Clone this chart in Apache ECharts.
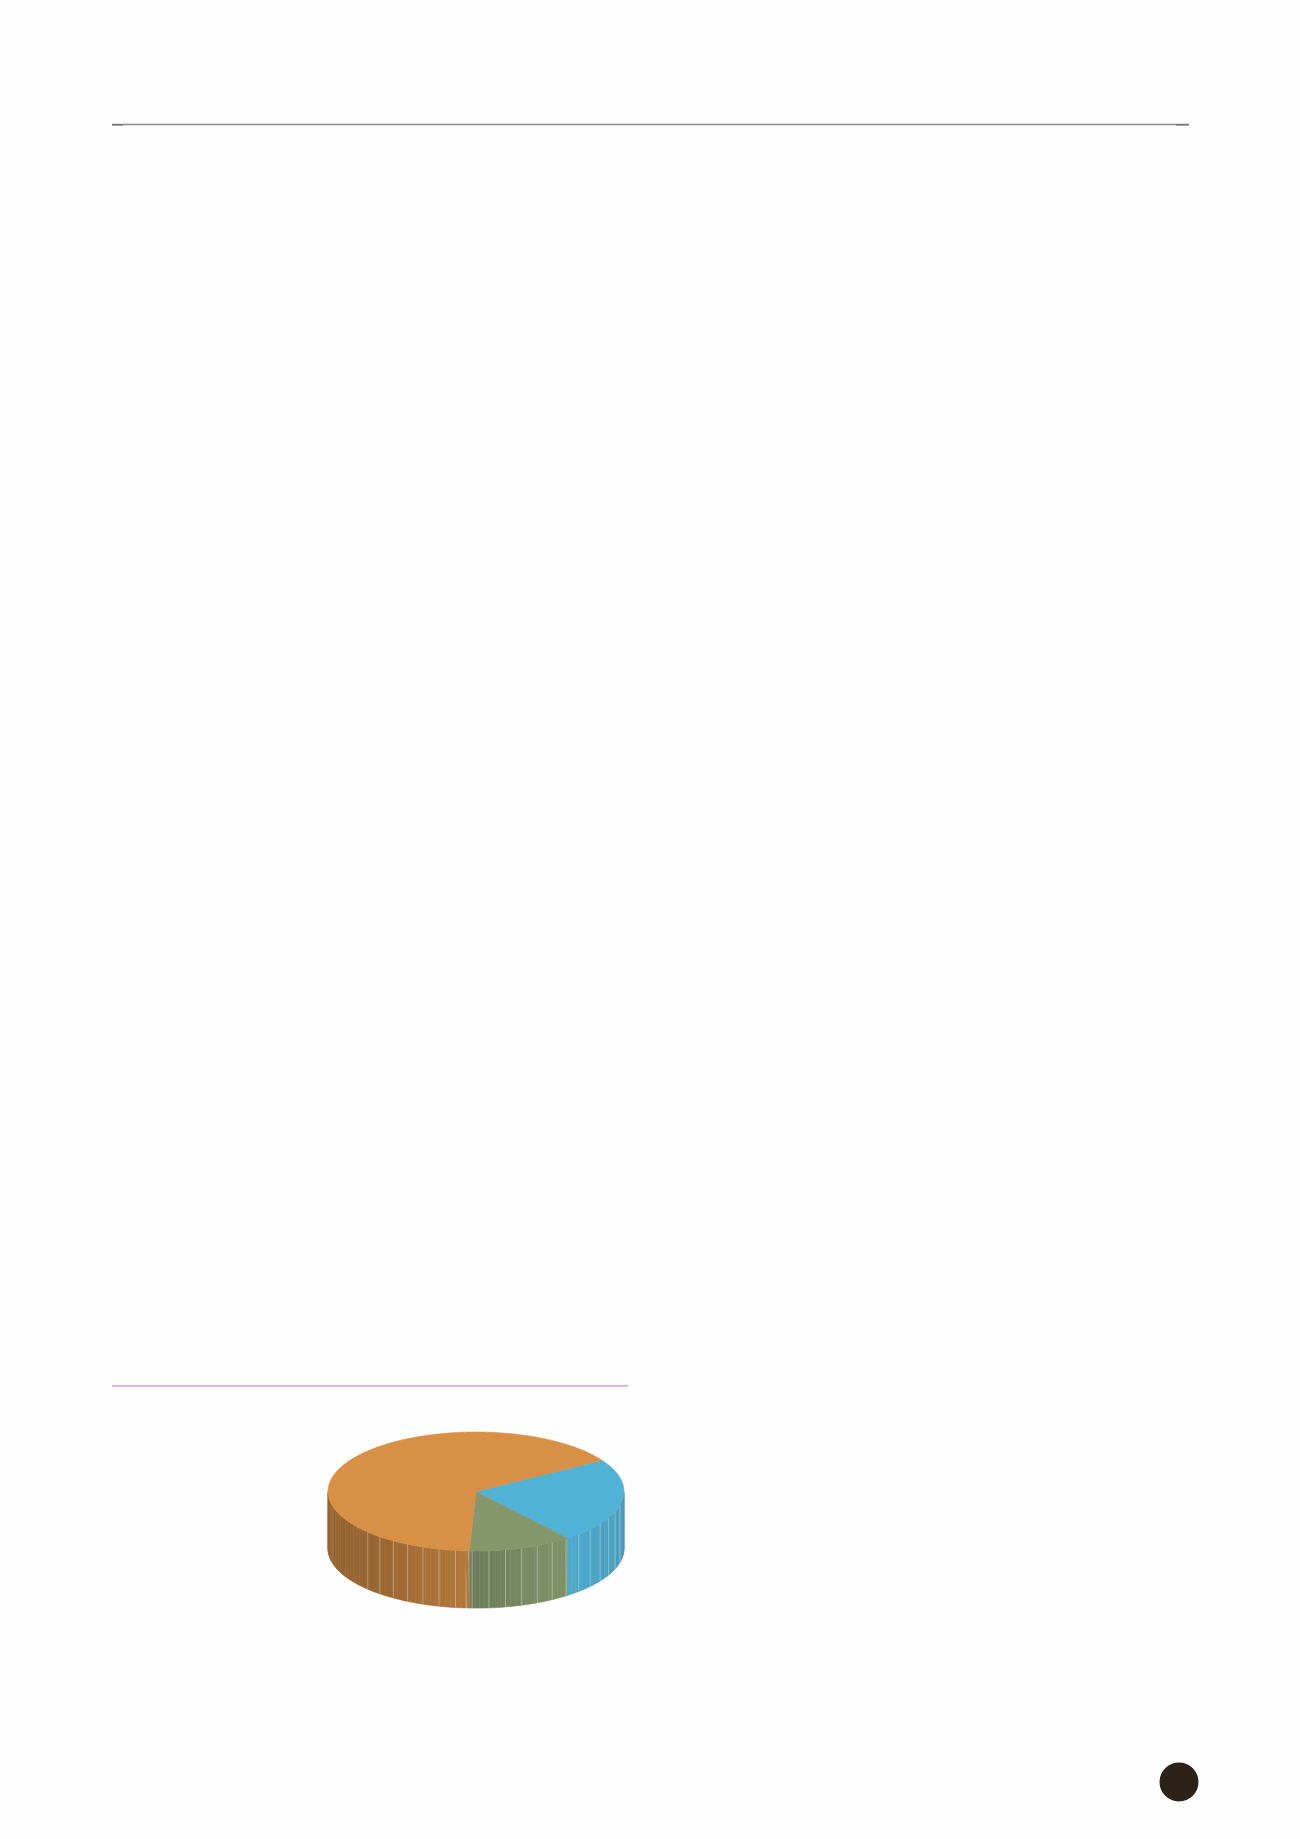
<!DOCTYPE html>
<html>
<head>
<meta charset="utf-8">
<script src="https://cdn.jsdelivr.net/npm/echarts@6/dist/echarts.min.js"></script>
<style>
  html, body { margin: 0; padding: 0; background: #fefefe; }
  #container { width: 1300px; height: 1839px; }
</style>
</head>
<body>
<div id="container"></div>
<script>
// slice data, clockwise from startAngle
var sliceNames = ['Segment A', 'Segment B', 'Segment C'];
var sliceValues = [23.2, 11.3, 65.5];
var startAngle = 31.6;

// look
var topColors = ['#50b2d5', '#84976d', '#d79046'];
var depth = 0.96;       // height of the cake, in y-axis units
var stripeFrom = 223;   // side stripes only on this part of the rim
var stripeTo = 350;
var stripeStep = 6.5;

function sliceAngles() {
  var total = 0;
  for (var i = 0; i < sliceValues.length; i++) total += sliceValues[i];
  var out = [];
  var a = startAngle;
  for (var j = 0; j < sliceValues.length; j++) {
    var sweep = sliceValues[j] / total * 360;
    out.push([a - sweep, a]);
    a -= sweep;
  }
  return out;
}

function rad(d) { return d * Math.PI / 180; }

function norm(d) {
  var n = d % 360;
  if (n < 0) n += 360;
  return n;
}

// side light: dark on the left, brightest a bit right of the front
function sideFactor(deg) {
  var t = norm(deg);
  if (t <= 225) return 0.70;
  if (t <= 270) return 0.70 + 0.14 * (t - 225) / 45;
  if (t <= 305) return 0.84 + 0.12 * (t - 270) / 35;
  return 0.96 - 0.11 * (t - 305) / 55;
}

function shade(hex, f) {
  var r = parseInt(hex.substr(1, 2), 16);
  var g = parseInt(hex.substr(3, 2), 16);
  var b = parseInt(hex.substr(5, 2), 16);
  return 'rgb(' + Math.round(r * f) + ',' + Math.round(g * f) + ',' + Math.round(b * f) + ')';
}

// visible (front) parts of a slice rim
function frontParts(lo, hi) {
  var parts = [];
  for (var k = -2; k <= 1; k++) {
    var s = 180 + 360 * k, e = 360 + 360 * k;
    var a = Math.max(lo, s), b = Math.min(hi, e);
    if (b > a) parts.push([a, b]);
  }
  return parts;
}

function renderSide(params, api) {
  var i = params.dataIndex;
  var ang = sliceAngles()[i];
  var color = topColors[i];
  var children = [];
  var parts = frontParts(ang[0], ang[1]);
  parts.forEach(function (p) {
    var t = p[0];
    while (t < p[1]) {
      var t2 = Math.min(p[1], t + 2);
      var pts = [];
      for (var d = t; d <= t2 + 1e-6; d += 0.5) {
        pts.push(api.coord([Math.cos(rad(d)), Math.sin(rad(d))]));
      }
      for (var d2 = t2; d2 >= t - 1e-6; d2 -= 0.5) {
        pts.push(api.coord([Math.cos(rad(d2)), Math.sin(rad(d2)) - depth]));
      }
      var c = shade(color, sideFactor((t + t2) / 2));
      children.push({
        type: 'polygon',
        shape: { points: pts },
        style: { fill: c, stroke: c, lineWidth: 0.6 }
      });
      t = t2;
    }
    // stripes
    for (var s = stripeFrom; s <= stripeTo; s += stripeStep) {
      for (var k = -2; k <= 1; k++) {
        var sd = s + 360 * k - 360;
        if (sd > p[0] + 0.5 && sd < p[1] - 0.5) {
          var top = api.coord([Math.cos(rad(sd)), Math.sin(rad(sd))]);
          var bot = api.coord([Math.cos(rad(sd)), Math.sin(rad(sd)) - depth]);
          children.push({
            type: 'line',
            shape: { x1: top[0], y1: top[1], x2: bot[0], y2: bot[1] },
            style: { stroke: 'rgba(255,255,255,0.32)', lineWidth: 1 }
          });
        }
      }
    }
  });
  return { type: 'group', children: children };
}

function renderTop(params, api) {
  var i = params.dataIndex;
  var ang = sliceAngles()[i];
  var pts = [api.coord([0, 0])];
  for (var d = ang[0]; d <= ang[1] + 1e-6; d += 0.5) {
    pts.push(api.coord([Math.cos(rad(d)), Math.sin(rad(d))]));
  }
  pts.push(api.coord([Math.cos(rad(ang[1])), Math.sin(rad(ang[1]))]));
  return {
    type: 'polygon',
    shape: { points: pts },
    style: { fill: topColors[i], stroke: topColors[i], lineWidth: 0.6 }
  };
}

var dom = document.getElementById('container');
var myChart = echarts.init(dom);

var pieData = sliceValues.map(function (v, i) {
  return { name: sliceNames[i], value: [i, v] };
});

var option = {
  backgroundColor: '#fefefe',
  animation: false,
  grid: { left: 328, top: 1432, width: 296, height: 178.5 },
  xAxis: { type: 'value', min: -1, max: 1, show: false },
  yAxis: { type: 'value', min: -2, max: 1, show: false },
  graphic: [
    {
      type: 'line',
      shape: { x1: 112, y1: 124.5, x2: 1189, y2: 124.5 },
      style: { stroke: '#8a8a8a', lineWidth: 1.6 }
    },
    {
      type: 'line',
      shape: { x1: 112, y1: 125, x2: 123, y2: 125 },
      style: { stroke: '#6a6a6a', lineWidth: 1 }
    },
    {
      type: 'line',
      shape: { x1: 1176, y1: 125, x2: 1189, y2: 125 },
      style: { stroke: '#6a6a6a', lineWidth: 1 }
    },
    {
      type: 'line',
      shape: { x1: 112, y1: 1386, x2: 628, y2: 1386 },
      style: { stroke: '#d4a2d2', lineWidth: 1.5 }
    },
    {
      type: 'circle',
      shape: { cx: 1179, cy: 1782, r: 19.5 },
      style: { fill: '#2b2318' }
    }
  ],
  series: [
    {
      name: 'side',
      type: 'custom',
      renderItem: renderSide,
      data: pieData,
      z: 1
    },
    {
      name: 'top',
      type: 'custom',
      renderItem: renderTop,
      data: pieData,
      z: 2
    }
  ]
};

myChart.setOption(option);
</script>
</body>
</html>
